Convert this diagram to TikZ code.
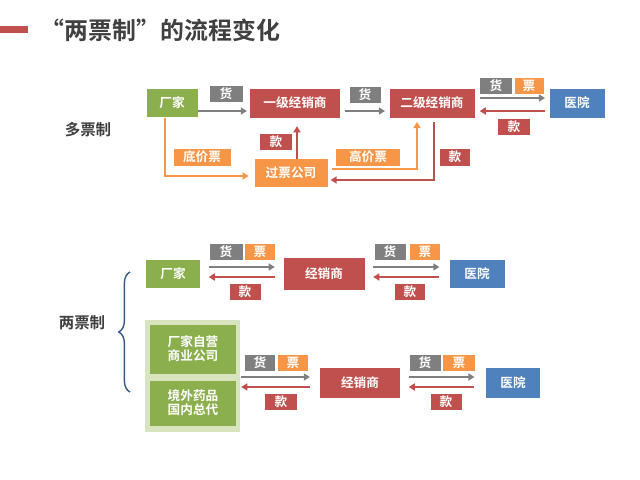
\documentclass[tikz,border=0pt]{standalone}
\usepackage{fontspec}
\setmainfont{Noto Sans CJK SC}[BoldFont={Noto Sans CJK SC Bold}]
\usetikzlibrary{arrows.meta,decorations.pathreplacing}
\newdimen\px \px=0.025cm
\definecolor{cgreen}{HTML}{8CAF4E}
\definecolor{cred}{HTML}{C0504D}
\definecolor{cblue}{HTML}{4F81BD}
\definecolor{corange}{HTML}{F79646}
\definecolor{cgray}{HTML}{7F7F7F}
\definecolor{clight}{HTML}{D7E4BD}
\definecolor{ctitle}{HTML}{404040}
\tikzset{
	box/.style={fill=#1, text=white, font=\bfseries\fontsize{9}{10}\selectfont, inner sep=0pt, align=center},
	tag/.style={fill=#1, text=white, font=\bfseries\fontsize{9}{10}\selectfont, inner sep=0pt, minimum width=31\px, minimum height=16\px},
	flow/.style={draw=#1, line width=1.7pt, -{Triangle[length=4.3pt,width=5pt]}}
}
\begin{document}
\begin{tikzpicture}[x=\px, y=-\px]
	\useasboundingbox (0,0) rectangle (640,480);
	\fill[cred] (0,26) rectangle (28,33);
	\node[anchor=west, text=ctitle, font=\bfseries\fontsize{17}{19}\selectfont] (title) at (36,30) {“两票制”的流程变化};
	% multi-invoice system
	\node[font=\bfseries\fontsize{11}{13}\selectfont, text=ctitle] (multi) at (88,130) {多票制};
	\node[box=cgreen, minimum width=51\px, minimum height=28\px] (fac) at (172,103) {厂家};
	\node[box=cred, minimum width=90\px, minimum height=29\px] (d1) at (295,103) {一级经销商};
	\node[box=cred, minimum width=85\px, minimum height=29\px] (d2) at (432,103) {二级经销商};
	\node[box=cblue, minimum width=55\px, minimum height=29\px] (hos) at (577,103) {医院};
	\node[box=corange, minimum width=73\px, minimum height=28\px] (pass) at (291,173) {过票公司};
	\node[tag=cgray, minimum width=33\px] (g1) at (226,94) {货};
	\node[tag=cgray] (g2) at (365,95) {货};
	\node[tag=cgray, minimum width=32\px] (g3) at (496,86) {货};
	\node[tag=corange, minimum width=29\px] (p3) at (529,86) {票};
	\node[tag=cred, minimum width=32\px] (k3) at (514,127) {款};
	\node[tag=corange, minimum width=57\px, minimum height=17\px] (low) at (202,157) {底价票};
	\node[tag=corange, minimum width=64\px, minimum height=17\px] (high) at (368,157) {高价票};
	\node[tag=cred, minimum width=32\px] (k1) at (276,142) {款};
	\node[tag=cred, minimum width=30\px, minimum height=17\px] (k2) at (455,157) {款};
	\draw[flow=cgray] (fac.east |- 0,111) -- ([xshift=-2pt]d1.west |- 0,111);
	\draw[flow=cgray] ([xshift=3pt]d1.east |- 0,111) -- ([xshift=-3pt]d2.west |- 0,111);
	\draw[flow=cgray] ([xshift=3.5pt]d2.east |- 0,98) -- ([xshift=-3pt]hos.west |- 0,98);
	\draw[flow=cred] ([xshift=-3pt]hos.west |- 0,111) -- ([xshift=3.5pt]d2.east |- 0,111);
	\draw[flow=corange] (165,118) -- (165,176) -- ([xshift=-4pt]pass.west |- 0,176);
	\draw[flow=cred] (pass.north -| 297,0) -- ([yshift=-6pt]d1.south -| 297,0);
	\draw[flow=corange] ([xshift=3pt]pass.east |- 0,169) -- (417,169) -- ([yshift=-3pt]d2.south -| 417,0);
	\draw[flow=cred] ([yshift=-3pt]d2.south -| 434,0) -- (434,180) -- ([xshift=2pt]pass.east |- 0,180);
	% two-invoice system
	\node[font=\bfseries\fontsize{11}{13}\selectfont, text=ctitle] (two) at (82,323) {两票制};
	\draw[cblue!70!black, line width=1pt, decorate, decoration={brace, amplitude=8pt}] (130,392) -- (130,272);
	\node[box=cgreen, minimum width=54\px, minimum height=28\px] (fac2) at (173,274) {厂家};
	\node[box=cred, minimum width=81\px, minimum height=32\px] (d3) at (324,274) {经销商};
	\node[box=cblue, minimum width=55\px, minimum height=28\px] (hos2) at (477,274) {医院};
	\node[tag=cgray, minimum width=33\px] (g4) at (226,252) {货};
	\node[tag=corange, minimum width=30\px] (p4) at (260,252) {票};
	\node[tag=cred] (k4) at (245,292) {款};
	\node[tag=cgray] (g5) at (390,252) {货};
	\node[tag=corange, minimum width=30\px] (p5) at (425,252) {票};
	\node[tag=cred, minimum width=30\px] (k5) at (410,292) {款};
	\draw[flow=cgray] ([xshift=6pt]fac2.east |- 0,267) -- ([xshift=-6pt]d3.west |- 0,267);
	\draw[flow=cred] ([xshift=-6pt]d3.west |- 0,277) -- ([xshift=6pt]fac2.east |- 0,277);
	\draw[flow=cgray] ([xshift=6pt]d3.east |- 0,267) -- ([xshift=-7pt]hos2.west |- 0,267);
	\draw[flow=cred] ([xshift=-7pt]hos2.west |- 0,277) -- ([xshift=6pt]d3.east |- 0,277);
	\fill[clight] (145,320) rectangle (240,432);
	\node[box=cgreen, minimum width=86\px, minimum height=49\px] (own) at (193,349) {厂家自营\\商业公司};
	\node[box=cgreen, minimum width=86\px, minimum height=45\px] (agent) at (193,403) {境外药品\\国内总代};
	\node[box=cred, minimum width=80\px, minimum height=30\px] (d4) at (360,383) {经销商};
	\node[box=cblue, minimum width=54\px, minimum height=30\px] (hos3) at (513,383) {医院};
	\node[tag=cgray, minimum width=30\px] (g6) at (260,363) {货};
	\node[tag=corange, minimum width=30\px] (p6) at (293,363) {票};
	\node[tag=cred, minimum width=32\px] (k6) at (281,402) {款};
	\node[tag=cgray] (g7) at (425,363) {货};
	\node[tag=corange, minimum width=32\px] (p7) at (459,363) {票};
	\node[tag=cred] (k7) at (446,402) {款};
	\draw[flow=cgray] ([xshift=3.5pt]agent.east |- 0,377) -- ([xshift=-7pt]d4.west |- 0,377);
	\draw[flow=cred] ([xshift=-7pt]d4.west |- 0,387) -- ([xshift=3.5pt]agent.east |- 0,387);
	\draw[flow=cgray] ([xshift=6pt]d4.east |- 0,377) -- ([xshift=-8pt]hos3.west |- 0,377);
	\draw[flow=cred] ([xshift=-8pt]hos3.west |- 0,387) -- ([xshift=6pt]d4.east |- 0,387);
\end{tikzpicture}
\end{document}
